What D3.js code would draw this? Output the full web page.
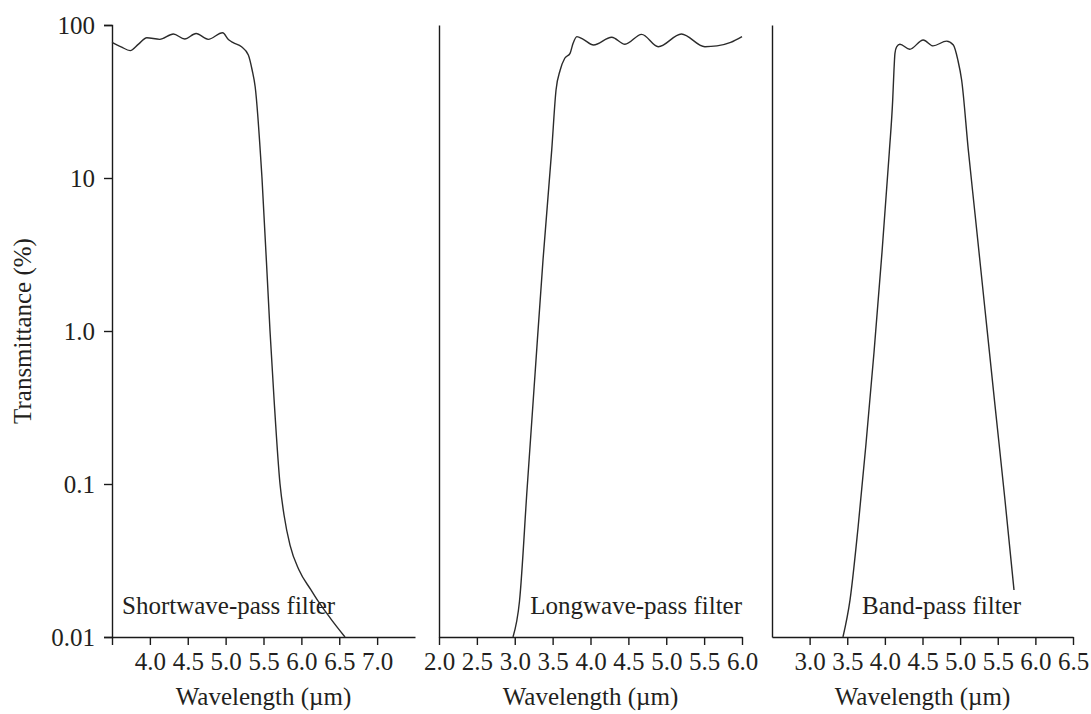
<!DOCTYPE html>
<html>
<head>
<meta charset="utf-8">
<script src="https://cdn.jsdelivr.net/npm/d3@7"></script>
<style>
  html, body { margin: 0; padding: 0; background: #ffffff; }
  svg { display: block; }
  text { font-family: "Liberation Serif", "DejaVu Serif", serif; fill: #231f20; }
</style>
</head>
<body>
<svg id="chart" width="1091" height="714"></svg>
<script>
// Transmittance (%) versus wavelength (µm) for three infrared filters

// Shortwave-pass filter
const swWavelength = [3.50, 3.62, 3.74, 3.85, 3.96, 4.13, 4.31, 4.46, 4.61, 4.77, 4.96, 5.04, 5.10, 5.21, 5.30, 5.35, 5.39, 5.48, 5.586, 5.64, 5.718, 5.771, 5.850, 5.969, 6.127, 6.219, 6.391, 6.576];
const swTransmittance = [77, 72, 68, 75, 82.6, 80.6, 87.3, 81, 88, 80.6, 89, 80, 76.6, 72, 63.7, 50.8, 39.5, 10, 1.0, 0.354, 0.1, 0.0627, 0.0399, 0.0274, 0.0203, 0.0172, 0.0131, 0.01];

// Longwave-pass filter
const lwWavelength = [2.977, 3.063, 3.162, 3.267, 3.373, 3.488, 3.545, 3.60, 3.66, 3.73, 3.77, 3.82, 3.905, 4.04, 4.28, 4.455, 4.675, 4.895, 5.2, 5.51, 5.67, 5.85, 6.0];
const lwTransmittance = [0.01, 0.0172, 0.0914, 0.516, 2.91, 15.2, 37.6, 50.8, 60.6, 65.3, 75.9, 83.9, 80.6, 74, 83.1, 74.8, 86.9, 72.1, 87.3, 72.1, 73, 77, 84];

// Band-pass filter
const bpWavelength = [3.443, 3.537, 3.643, 3.749, 3.856, 3.962, 4.059, 4.104, 4.121, 4.134, 4.156, 4.2, 4.33, 4.51, 4.64, 4.82, 4.91, 4.97, 5.02, 5.109, 5.198, 5.331, 5.463, 5.596, 5.716];
const bpTransmittance = [0.01, 0.0175, 0.0516, 0.1826, 0.729, 3.28, 14.8, 32.4, 50.8, 65.3, 72, 74.8, 69.4, 79.8, 73, 78.5, 74, 59, 43.7, 15.2, 5.82, 1.372, 0.328, 0.0786, 0.0203];

// Axis ticks
const yTicks = [100, 10, 1, 0.1, 0.01];
const yTickLabels = ["100", "10", "1.0", "0.1", "0.01"];
const swTicks = [3.5, 4.0, 4.5, 5.0, 5.5, 6.0, 6.5, 7.0];
const swTickLabels = ["", "4.0", "4.5", "5.0", "5.5", "6.0", "6.5", "7.0"];
const lwTicks = [2.0, 2.5, 3.0, 3.5, 4.0, 4.5, 5.0, 5.5, 6.0];
const lwTickLabels = ["2.0", "2.5", "3.0", "3.5", "4.0", "4.5", "5.0", "5.5", "6.0"];
const bpTicks = [3.0, 3.5, 4.0, 4.5, 5.0, 5.5, 6.0, 6.5];
const bpTickLabels = ["3.0", "3.5", "4.0", "4.5", "5.0", "5.5", "6.0", "6.5"];

const panelTitles = ["Shortwave-pass filter", "Longwave-pass filter", "Band-pass filter"];
const xTitle = "Wavelength (µm)";
const yTitle = "Transmittance (%)";

const svg = d3.select("#chart");
const FONT = 25;
const plotTop = 25, plotBottom = 637;

const y = d3.scaleLog().domain([0.01, 100]).range([plotBottom, plotTop]);

const panels = [
  { domain: [3.5, 7.5], range: [112, 415], xs: swWavelength, ys: swTransmittance,
    ticks: swTicks, labels: swTickLabels, title: panelTitles[0], anchor: "start", tx: 122 },
  { domain: [2.0, 6.0], range: [439, 742], xs: lwWavelength, ys: lwTransmittance,
    ticks: lwTicks, labels: lwTickLabels, title: panelTitles[1], anchor: "end", tx: 742 },
  { domain: [2.5, 6.5], range: [772, 1073], xs: bpWavelength, ys: bpTransmittance,
    ticks: bpTicks, labels: bpTickLabels, title: panelTitles[2], anchor: "end", tx: 1021 }
];

function styleAxis(g) {
  g.selectAll("path.domain").attr("stroke", "#1a1a1a").attr("stroke-width", 1.4);
  g.selectAll(".tick line").attr("stroke", "#1a1a1a").attr("stroke-width", 1.4);
  g.selectAll(".tick text")
    .attr("font-family", "Liberation Serif, DejaVu Serif, serif")
    .attr("font-size", FONT)
    .attr("fill", "#231f20");
}

panels.forEach((p, i) => {
  const x = d3.scaleLinear().domain(p.domain).range(p.range);
  const g = svg.append("g");

  // vertical axis
  const yAxis = d3.axisLeft(y).tickSizeOuter(0);
  if (i === 0) {
    yAxis.tickValues(yTicks).tickSize(8).tickPadding(9)
      .tickFormat((d) => yTickLabels[yTicks.indexOf(d)]);
  } else {
    yAxis.tickValues([]);
  }
  const ya = g.append("g").attr("transform", `translate(${p.range[0]},0)`).call(yAxis);
  styleAxis(ya);
  ya.selectAll(".tick text").attr("dy", "0.34em");

  // horizontal axis
  const xAxis = d3.axisBottom(x).tickValues(p.ticks).tickSize(8).tickSizeOuter(0).tickPadding(7)
    .tickFormat((d) => p.labels[p.ticks.indexOf(d)]);
  const xa = g.append("g").attr("transform", `translate(0,${plotBottom})`).call(xAxis);
  styleAxis(xa);

  // axis title
  g.append("text")
    .attr("x", (p.range[0] + p.range[1]) / 2)
    .attr("y", 705)
    .attr("text-anchor", "middle")
    .attr("font-size", FONT)
    .text(xTitle);

  // transmittance curve
  const pts = p.xs.map((w, k) => [w, p.ys[k]]);
  const line = d3.line()
    .x((d) => x(d[0]))
    .y((d) => y(d[1]))
    .curve(d3.curveMonotoneX);
  g.append("path")
    .datum(pts)
    .attr("fill", "none")
    .attr("stroke", "#2b2b2b")
    .attr("stroke-width", 1.4)
    .attr("d", line);

  // filter name
  g.append("text")
    .attr("x", p.tx)
    .attr("y", 614)
    .attr("text-anchor", p.anchor)
    .attr("font-size", FONT)
    .text(p.title);
});

// shared y title
svg.append("text")
  .attr("transform", "translate(31,331) rotate(-90)")
  .attr("text-anchor", "middle")
  .attr("font-size", FONT)
  .text(yTitle);
</script>
</body>
</html>
